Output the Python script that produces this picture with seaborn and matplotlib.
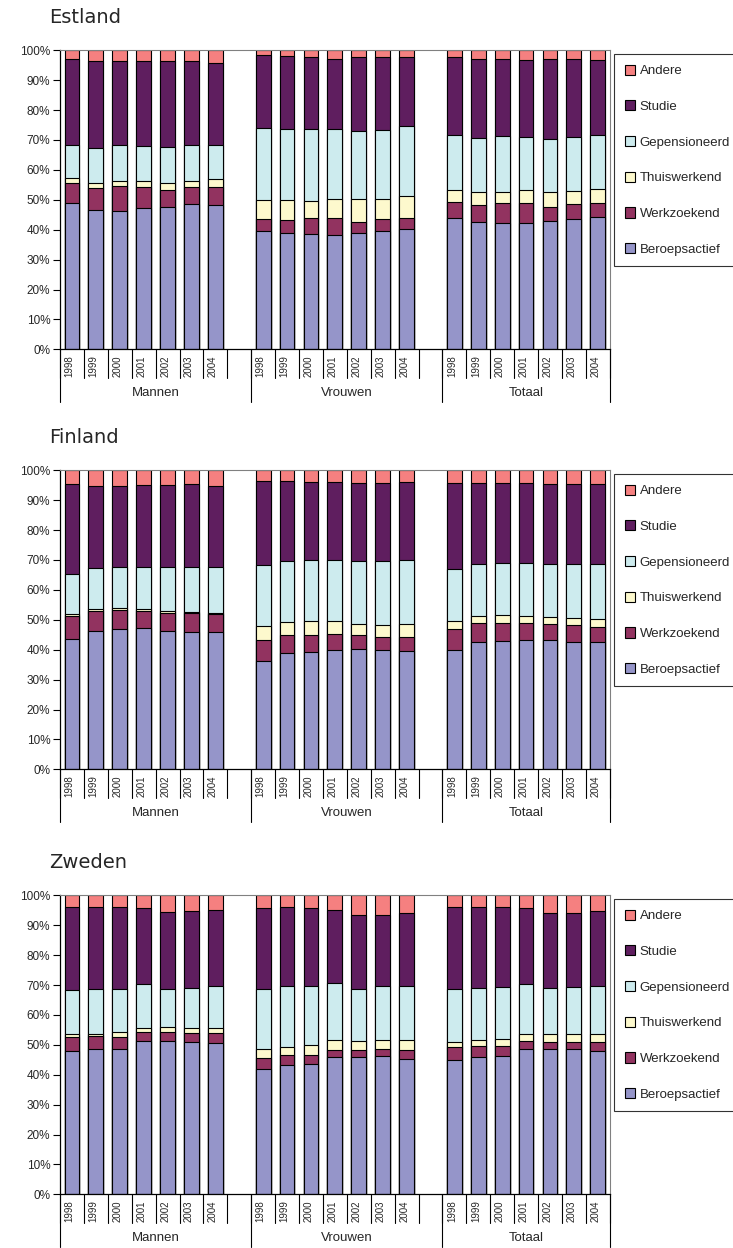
import pandas as pd
import numpy as np
import matplotlib
matplotlib.use('Agg')
import matplotlib.pyplot as plt
import seaborn as sns
from matplotlib.patches import Patch

sns.set_theme(style="white")
plt.rcParams['font.family'] = ['Liberation Sans', 'DejaVu Sans']

# === ДАННЫЕ ===
# Накопленные доли (верх сегмента, %), порядок: Mannen 1998-2004, Vrouwen 1998-2004, Totaal 1998-2004
years = ['1998', '1999', '2000', '2001', '2002', '2003', '2004']
groups = ['Mannen', 'Vrouwen', 'Totaal']
categories = ['Beroepsactief', 'Werkzoekend', 'Thuiswerkend', 'Gepensioneerd', 'Studie', 'Andere']
colors = ['#9595C9', '#923360', '#FDF9CD', '#CDEBEE', '#5F1E5F', '#F58080']

est_beroeps = [49.0, 46.7, 46.2, 47.2, 47.5, 48.5, 48.3, 39.6, 38.8, 38.6, 38.1, 39.0, 39.5, 40.4, 43.8, 42.5, 42.1, 42.4, 42.8, 43.5, 44.1]
est_werkz = [55.5, 54.0, 54.6, 54.3, 53.3, 54.3, 54.3, 43.5, 43.3, 43.8, 43.8, 42.7, 43.5, 44.0, 49.1, 48.3, 48.8, 48.8, 47.5, 48.5, 48.8]
est_thuis = [57.2, 55.5, 56.3, 56.4, 55.5, 56.2, 56.9, 50.1, 49.8, 49.6, 50.4, 50.2, 50.2, 51.2, 53.3, 52.5, 52.6, 53.2, 52.7, 53.1, 53.6]
est_gepens = [68.4, 67.2, 68.4, 67.9, 67.6, 68.3, 68.4, 74.1, 73.6, 73.7, 73.8, 73.0, 73.5, 74.7, 71.6, 70.7, 71.2, 71.0, 70.5, 71.0, 71.7]
est_studie = [97.1, 96.3, 96.5, 96.3, 96.3, 96.3, 95.8, 98.3, 98.0, 97.7, 97.1, 97.7, 97.9, 97.8, 97.7, 97.2, 97.2, 96.8, 97.1, 97.1, 96.8]

fin_beroeps = [43.7, 46.2, 46.9, 47.2, 46.3, 46.0, 45.9, 36.3, 38.8, 39.1, 39.8, 40.1, 39.8, 39.4, 39.8, 42.5, 42.8, 43.4, 43.1, 42.7, 42.5]
fin_werkz = [51.3, 53.1, 53.2, 53.0, 52.3, 52.2, 52.0, 43.1, 44.8, 44.9, 45.3, 44.8, 44.4, 44.4, 46.9, 48.8, 48.8, 48.9, 48.5, 48.2, 47.7]
fin_thuis = [52.1, 53.7, 53.8, 53.7, 52.8, 52.7, 52.4, 47.8, 49.3, 49.5, 49.5, 48.6, 48.4, 48.7, 49.5, 51.3, 51.6, 51.4, 50.8, 50.5, 50.4]
fin_gepens = [65.4, 67.3, 67.8, 67.8, 67.6, 67.6, 67.6, 68.4, 69.7, 69.9, 70.1, 69.6, 69.6, 70.0, 67.1, 68.6, 68.9, 69.0, 68.6, 68.6, 68.8]
fin_studie = [95.3, 94.9, 94.9, 95.0, 95.0, 95.3, 94.6, 96.3, 96.3, 96.1, 96.2, 95.9, 95.9, 96.0, 95.8, 95.7, 95.7, 95.7, 95.5, 95.5, 95.4]

zwe_beroeps = [47.8, 48.7, 48.6, 51.3, 51.2, 50.8, 50.5, 41.8, 43.3, 43.7, 45.8, 46.0, 46.2, 45.4, 44.8, 45.9, 46.2, 48.5, 48.5, 48.5, 47.8]
zwe_werkz = [52.7, 53.1, 52.5, 54.2, 54.2, 54.0, 54.1, 45.7, 46.5, 46.7, 48.2, 48.2, 48.5, 48.3, 49.1, 49.7, 49.5, 51.2, 51.1, 51.1, 51.1]
zwe_thuis = [53.5, 53.7, 54.2, 55.7, 55.9, 55.5, 55.7, 48.5, 49.3, 49.8, 51.5, 51.4, 51.7, 51.5, 51.1, 51.7, 52.1, 53.7, 53.6, 53.7, 53.6]
zwe_gepens = [68.2, 68.6, 68.8, 70.2, 68.8, 68.9, 69.6, 68.8, 69.5, 69.8, 70.7, 68.8, 69.5, 69.8, 68.6, 69.0, 69.3, 70.5, 68.9, 69.2, 69.7]
zwe_studie = [96.0, 96.0, 96.0, 95.9, 94.5, 94.6, 95.1, 95.9, 96.0, 95.8, 95.1, 93.3, 93.5, 94.0, 96.0, 96.0, 96.0, 95.7, 94.1, 94.1, 94.6]

countries = [
    ('Estland', [est_beroeps, est_werkz, est_thuis, est_gepens, est_studie]),
    ('Finland', [fin_beroeps, fin_werkz, fin_thuis, fin_gepens, fin_studie]),
    ('Zweden', [zwe_beroeps, zwe_werkz, zwe_thuis, zwe_gepens, zwe_studie]),
]

# порядок категорий по оси X: 7 лет на группу + пустой слот между группами
slots = [f'{g} {y}' for g in groups for y in years]
order = slots[:7] + ['_gap1'] + slots[7:14] + ['_gap2'] + slots[14:]

fig = plt.figure(figsize=(7.33, 12.48), dpi=100)
W, H = 733, 1248
ax_left, ax_width, ax_h = 60, 549.7, 299
ax_tops = [50.3, 470.3, 895.3]

for (name, tops), top_px in zip(countries, ax_tops):
    ax = fig.add_axes([ax_left / W, 1 - (top_px + ax_h) / H, ax_width / W, ax_h / H])
    df = pd.DataFrame({'slot': slots})
    for cat, vals in zip(categories[:-1], tops):
        df[cat] = vals
    df['Andere'] = 100.0

    # рисуем накопленные столбцы сверху вниз, чтобы нижние перекрывали верхние
    for cat, col in reversed(list(zip(categories, colors))):
        sns.barplot(data=df, x='slot', y=cat, order=order, color=col, saturation=1,
                    edgecolor='black', linewidth=0.8, width=0.62, errorbar=None, ax=ax)

    ax.set_xlim(-0.5, len(order) - 0.5)
    ax.set_ylim(0, 100)
    ax.set_yticks(np.arange(0, 101, 10))
    ax.set_yticklabels([f'{v}%' for v in range(0, 101, 10)], fontsize=8.5)
    ax.tick_params(axis='y', direction='out', length=5, width=0.8, color='black', left=True, pad=2)
    ax.set_xticks([])
    ax.set_xlabel('')
    ax.set_ylabel('')
    for s in ['left', 'bottom']:
        ax.spines[s].set_color('black')
        ax.spines[s].set_linewidth(0.9)
    for s in ['top', 'right']:
        ax.spines[s].set_color('#808080')
        ax.spines[s].set_linewidth(0.8)

    # подписи оси X: годы и группы
    tr = ax.get_xaxis_transform()
    year_len = 29 / ax_h
    group_len = 52.4 / ax_h
    for k in range(len(order) + 1):
        ax.plot([k - 0.5, k - 0.5], [0, -year_len], color='black', lw=0.8, transform=tr, clip_on=False)
    for xb in [-0.5, 7.5, 15.5, 22.5]:
        ax.plot([xb, xb], [0, -group_len], color='black', lw=0.8, transform=tr, clip_on=False)
    for i, lab in enumerate(order):
        if lab.startswith('_'):
            continue
        ax.text(i - 0.1, -6 / ax_h, lab.split()[1], rotation=90, ha='center', va='top',
                fontsize=7, transform=tr)
    for g, xc in zip(groups, [3.5, 11.5, 19.0]):
        ax.text(xc, -44 / ax_h, g, ha='center', va='center', fontsize=9.5, transform=tr)

    fig.text(49 / W, 1 - (top_px - 33) / H, name, ha='left', va='center', fontsize=14,
             family='DejaVu Sans')

    handles = [Patch(facecolor=c, edgecolor='black', linewidth=0.8, label=l)
               for l, c in reversed(list(zip(categories, colors)))]
    leg = ax.legend(handles=handles, loc='upper left', bbox_to_anchor=((614 - ax_left) / ax_width, 1 - 3.7 / ax_h),
                    frameon=True, fancybox=False, shadow=False, fontsize=9.5, labelspacing=1.75,
                    handlelength=0.8, handleheight=0.8, handletextpad=0.35, borderpad=0.8,
                    borderaxespad=0)
    leg.get_frame().set_edgecolor('black')
    leg.get_frame().set_linewidth(0.8)

plt.savefig('out.png', dpi=100)
